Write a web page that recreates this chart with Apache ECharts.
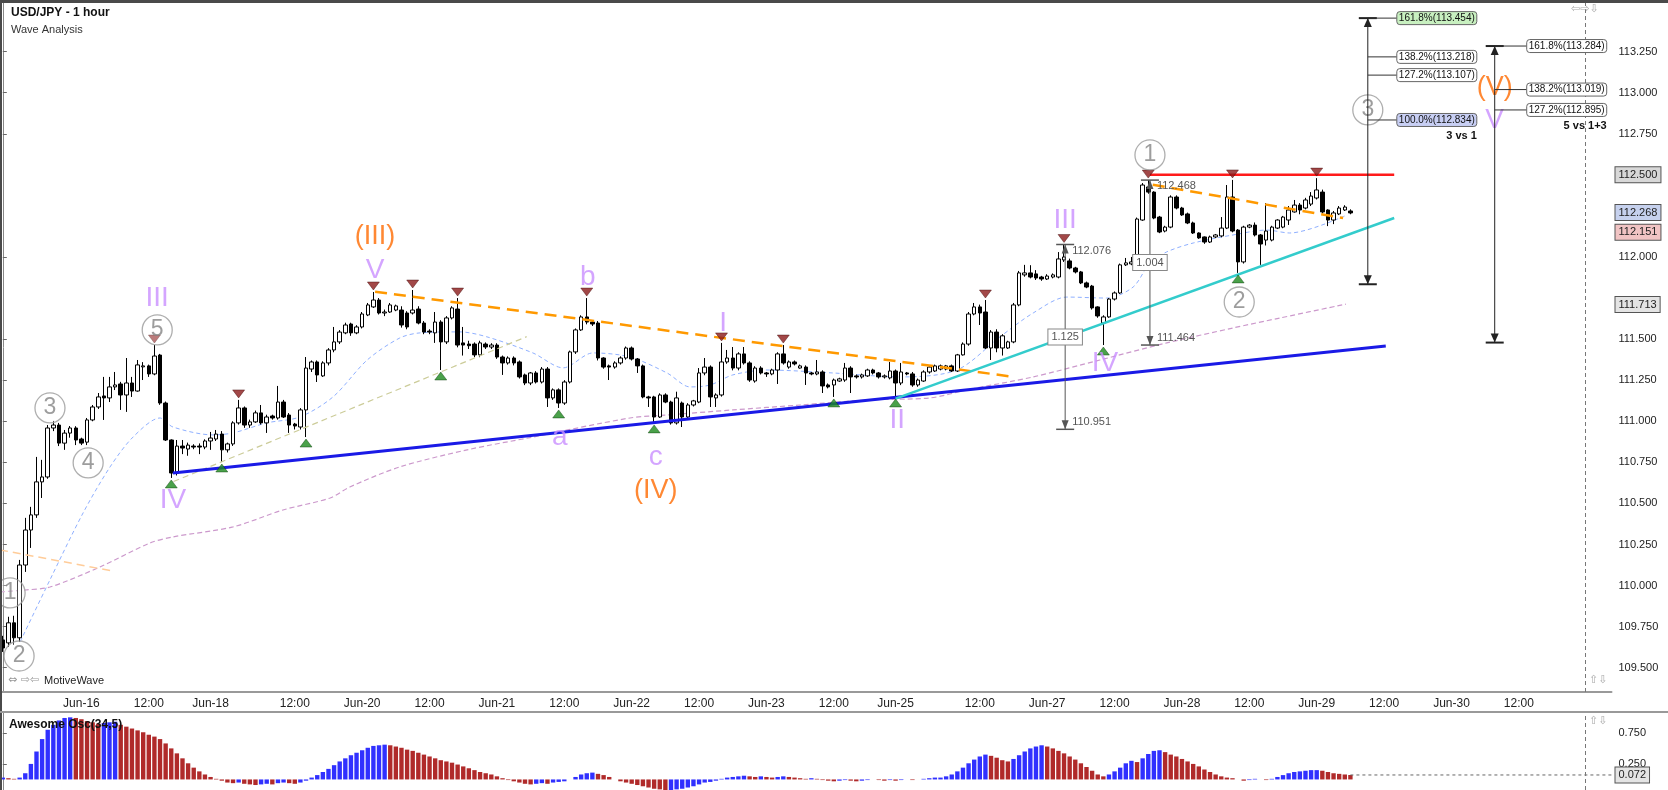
<!DOCTYPE html>
<html>
<head>
<meta charset="utf-8">
<title>USD/JPY - 1 hour</title>
<script src="https://cdn.jsdelivr.net/npm/echarts@6/dist/echarts.min.js"></script>
<style>
html, body { margin: 0; padding: 0; background: #fff; }
#chart { width: 1668px; height: 790px; }
</style>
</head>
<body>
<div id="chart"></div>
<script>
// hourly slots on the time axis (weekend hours are skipped, future slots stay empty)
const slotCount = 287;
const tickSlots = [14, 26, 37, 52, 64, 76, 88, 100, 112, 124, 136, 148, 159, 174, 186, 198, 210, 222, 234, 246, 258, 270];
const tickLabels = ['Jun-16', '12:00', 'Jun-18', '12:00', 'Jun-20', '12:00', 'Jun-21', '12:00', 'Jun-22', '12:00', 'Jun-23', '12:00',
    'Jun-25', '12:00', 'Jun-27', '12:00', 'Jun-28', '12:00', 'Jun-29', '12:00', 'Jun-30', '12:00'];

const priceTicks = [109.5, 109.75, 110, 110.25, 110.5, 110.75, 111, 111.25, 111.5, 112, 112.75, 113, 113.25];
const oscTicks = [0.25, 0.75];

// [open, close, low, high]
const candles = [
    [109.669, 109.620, 109.596, 109.694], [109.651, 109.773, 109.626, 109.810], [109.773, 109.682, 109.639, 109.816],
    [109.682, 110.125, 109.657, 110.156], [110.125, 110.338, 110.083, 110.412], [110.338, 110.430, 110.229, 110.479],
    [110.430, 110.631, 110.412, 110.783], [110.631, 110.661, 110.533, 110.765], [110.661, 110.959, 110.650, 110.977],
    [110.959, 110.977, 110.940, 111.002], [110.977, 110.867, 110.849, 110.990], [110.867, 110.928, 110.826, 110.947],
    [110.928, 110.959, 110.900, 110.971], [110.959, 110.886, 110.855, 110.970], [110.892, 110.867, 110.855, 110.900],
    [110.873, 111.008, 110.855, 111.020], [111.008, 111.087, 111.000, 111.099], [111.087, 111.148, 111.075, 111.172],
    [111.154, 111.142, 111.008, 111.270], [111.142, 111.209, 111.117, 111.270], [111.209, 111.221, 111.190, 111.300],
    [111.227, 111.160, 111.069, 111.240], [111.160, 111.233, 111.057, 111.385], [111.233, 111.184, 111.148, 111.270],
    [111.184, 111.343, 111.180, 111.373], [111.331, 111.337, 111.251, 111.360], [111.337, 111.288, 111.270, 111.345],
    [111.288, 111.397, 111.280, 111.464], [111.403, 111.111, 111.100, 111.410], [111.111, 110.886, 110.880, 111.120],
    [110.886, 110.685, 110.655, 110.890], [110.685, 110.849, 110.670, 110.886], [110.849, 110.837, 110.800, 110.886],
    [110.831, 110.855, 110.790, 110.870], [110.849, 110.843, 110.830, 110.860], [110.849, 110.843, 110.800, 110.865],
    [110.843, 110.880, 110.830, 110.890], [110.880, 110.898, 110.826, 110.935], [110.892, 110.922, 110.880, 110.947],
    [110.922, 110.826, 110.752, 110.940], [110.826, 110.862, 110.810, 110.870], [110.862, 110.990, 110.850, 111.000],
    [110.990, 111.081, 110.980, 111.130], [111.081, 110.977, 110.960, 111.090], [110.977, 110.996, 110.960, 111.010],
    [110.996, 111.051, 110.990, 111.065], [111.051, 110.990, 110.980, 111.099], [110.990, 111.026, 110.929, 111.040],
    [111.032, 111.020, 111.010, 111.040], [111.020, 111.117, 111.010, 111.215], [111.117, 111.026, 111.020, 111.130],
    [111.038, 110.977, 110.929, 111.050], [110.983, 110.971, 110.950, 110.990], [110.965, 111.069, 110.950, 111.080],
    [111.069, 111.324, 110.904, 111.391], [111.318, 111.361, 111.300, 111.370], [111.361, 111.282, 111.239, 111.370],
    [111.276, 111.355, 111.270, 111.365], [111.355, 111.434, 111.340, 111.445], [111.434, 111.483, 111.420, 111.574],
    [111.483, 111.543, 111.470, 111.555], [111.538, 111.586, 111.530, 111.600], [111.592, 111.538, 111.520, 111.600],
    [111.538, 111.574, 111.530, 111.585], [111.574, 111.653, 111.565, 111.665], [111.647, 111.708, 111.640, 111.720],
    [111.696, 111.738, 111.690, 111.787], [111.738, 111.659, 111.650, 111.750], [111.659, 111.665, 111.640, 111.680],
    [111.665, 111.708, 111.660, 111.720], [111.677, 111.702, 111.670, 111.710], [111.677, 111.586, 111.570, 111.700],
    [111.659, 111.574, 111.560, 111.670], [111.659, 111.677, 111.650, 111.799], [111.683, 111.598, 111.590, 111.700],
    [111.598, 111.543, 111.530, 111.610], [111.549, 111.543, 111.530, 111.560], [111.538, 111.604, 111.477, 111.665],
    [111.604, 111.483, 111.312, 111.615], [111.483, 111.629, 111.470, 111.640], [111.629, 111.690, 111.620, 111.700],
    [111.683, 111.464, 111.450, 111.750], [111.477, 111.464, 111.400, 111.574], [111.470, 111.460, 111.440, 111.490],
    [111.470, 111.404, 111.390, 111.480], [111.404, 111.477, 111.390, 111.490], [111.470, 111.452, 111.440, 111.480],
    [111.452, 111.464, 111.440, 111.475], [111.464, 111.391, 111.380, 111.475], [111.391, 111.355, 111.282, 111.400],
    [111.355, 111.385, 111.345, 111.395], [111.385, 111.355, 111.340, 111.395], [111.361, 111.270, 111.260, 111.370],
    [111.282, 111.233, 111.220, 111.290], [111.233, 111.294, 111.220, 111.300], [111.294, 111.239, 111.230, 111.305],
    [111.239, 111.318, 111.230, 111.330], [111.318, 111.142, 111.087, 111.330], [111.142, 111.191, 111.130, 111.200],
    [111.191, 111.111, 111.081, 111.200], [111.111, 111.239, 111.100, 111.250], [111.239, 111.422, 111.230, 111.430],
    [111.422, 111.556, 111.410, 111.565], [111.556, 111.635, 111.550, 111.645], [111.635, 111.604, 111.590, 111.750],
    [111.604, 111.592, 111.580, 111.610], [111.598, 111.385, 111.370, 111.610], [111.385, 111.330, 111.320, 111.390],
    [111.337, 111.330, 111.251, 111.345], [111.330, 111.355, 111.320, 111.365], [111.355, 111.385, 111.345, 111.395],
    [111.385, 111.446, 111.375, 111.455], [111.446, 111.379, 111.370, 111.455], [111.379, 111.337, 111.294, 111.385],
    [111.337, 111.148, 111.140, 111.345], [111.148, 111.142, 111.087, 111.155], [111.148, 111.026, 110.990, 111.155],
    [111.026, 111.160, 111.020, 111.170], [111.160, 111.117, 111.110, 111.170], [111.117, 110.990, 110.980, 111.125],
    [110.990, 111.142, 110.980, 111.180], [111.111, 111.026, 110.965, 111.120], [111.026, 111.099, 111.020, 111.110],
    [111.099, 111.124, 111.090, 111.130], [111.117, 111.294, 111.110, 111.324], [111.294, 111.330, 111.280, 111.385],
    [111.330, 111.148, 111.087, 111.340], [111.142, 111.160, 111.087, 111.170], [111.160, 111.361, 111.150, 111.477],
    [111.361, 111.385, 111.350, 111.434], [111.385, 111.324, 111.310, 111.452], [111.324, 111.410, 111.310, 111.420],
    [111.410, 111.355, 111.345, 111.452], [111.355, 111.251, 111.240, 111.365], [111.245, 111.324, 111.235, 111.335],
    [111.324, 111.294, 111.285, 111.335], [111.294, 111.288, 111.270, 111.300], [111.288, 111.312, 111.280, 111.320],
    [111.312, 111.410, 111.227, 111.420], [111.410, 111.355, 111.345, 111.464], [111.330, 111.361, 111.320, 111.370],
    [111.361, 111.349, 111.340, 111.370], [111.324, 111.337, 111.320, 111.345], [111.330, 111.294, 111.221, 111.340],
    [111.294, 111.288, 111.280, 111.300], [111.288, 111.300, 111.280, 111.373], [111.300, 111.215, 111.172, 111.310],
    [111.221, 111.209, 111.200, 111.230], [111.221, 111.251, 111.148, 111.260], [111.245, 111.258, 111.240, 111.265],
    [111.251, 111.324, 111.240, 111.355], [111.324, 111.270, 111.172, 111.335], [111.276, 111.270, 111.260, 111.285],
    [111.270, 111.282, 111.260, 111.290], [111.276, 111.312, 111.270, 111.320], [111.312, 111.294, 111.285, 111.320],
    [111.294, 111.270, 111.260, 111.300], [111.270, 111.276, 111.260, 111.285], [111.264, 111.306, 111.255, 111.361],
    [111.306, 111.233, 111.148, 111.315], [111.233, 111.300, 111.220, 111.355], [111.294, 111.288, 111.280, 111.300],
    [111.288, 111.221, 111.210, 111.300], [111.221, 111.251, 111.210, 111.260], [111.245, 111.300, 111.240, 111.310],
    [111.300, 111.330, 111.290, 111.340], [111.306, 111.337, 111.300, 111.345], [111.318, 111.337, 111.310, 111.345],
    [111.318, 111.337, 111.310, 111.343], [111.337, 111.306, 111.300, 111.345], [111.306, 111.404, 111.300, 111.410],
    [111.404, 111.470, 111.400, 111.480], [111.470, 111.653, 111.460, 111.665], [111.653, 111.696, 111.645, 111.720],
    [111.696, 111.659, 111.586, 111.710], [111.665, 111.446, 111.440, 111.738], [111.446, 111.543, 111.373, 111.555],
    [111.543, 111.446, 111.420, 111.560], [111.446, 111.520, 111.400, 111.530], [111.446, 111.483, 111.440, 111.490],
    [111.483, 111.708, 111.475, 111.720], [111.708, 111.903, 111.700, 111.915], [111.891, 111.903, 111.880, 111.952],
    [111.903, 111.878, 111.870, 111.950], [111.897, 111.872, 111.860, 111.920], [111.878, 111.866, 111.855, 111.885],
    [111.866, 111.884, 111.860, 111.895], [111.878, 111.891, 111.870, 111.900], [111.878, 111.988, 111.870, 112.030],
    [111.982, 112.000, 111.970, 112.076], [111.976, 111.933, 111.925, 111.990], [111.933, 111.909, 111.900, 111.940],
    [111.909, 111.842, 111.835, 111.915], [111.842, 111.817, 111.810, 111.850], [111.823, 111.690, 111.680, 111.830],
    [111.696, 111.641, 111.630, 111.700], [111.598, 111.635, 111.464, 111.645], [111.635, 111.744, 111.630, 111.750],
    [111.744, 111.781, 111.735, 111.790], [111.781, 111.952, 111.775, 111.960], [111.952, 111.964, 111.945, 111.994],
    [111.958, 111.970, 111.950, 112.000], [111.982, 112.231, 111.975, 112.240], [112.225, 112.438, 112.220, 112.450],
    [112.426, 112.395, 112.385, 112.468], [112.395, 112.237, 112.230, 112.400], [112.243, 112.152, 112.145, 112.250],
    [112.158, 112.182, 112.150, 112.190], [112.182, 112.365, 112.175, 112.375], [112.365, 112.298, 112.290, 112.375],
    [112.298, 112.256, 112.250, 112.305], [112.262, 112.207, 112.200, 112.270], [112.207, 112.146, 112.140, 112.215],
    [112.146, 112.116, 112.110, 112.150], [112.122, 112.091, 112.080, 112.125], [112.091, 112.122, 112.085, 112.130],
    [112.122, 112.134, 112.115, 112.140], [112.128, 112.176, 112.120, 112.243], [112.176, 112.365, 112.170, 112.438],
    [112.365, 112.158, 112.150, 112.469], [112.164, 111.970, 111.903, 112.170], [111.970, 112.182, 111.960, 112.190],
    [112.182, 112.194, 112.175, 112.200], [112.194, 112.134, 112.125, 112.210], [112.134, 112.079, 111.952, 112.140],
    [112.103, 112.158, 112.070, 112.328], [112.103, 112.182, 112.095, 112.190], [112.176, 112.225, 112.170, 112.230],
    [112.182, 112.243, 112.175, 112.250], [112.225, 112.286, 112.195, 112.310], [112.274, 112.316, 112.270, 112.347],
    [112.316, 112.286, 112.260, 112.328], [112.298, 112.347, 112.290, 112.360], [112.322, 112.371, 112.310, 112.395],
    [112.359, 112.408, 112.350, 112.480], [112.395, 112.274, 112.265, 112.410], [112.286, 112.225, 112.188, 112.290],
    [112.225, 112.268, 112.200, 112.280], [112.262, 112.298, 112.255, 112.310], [112.286, 112.304, 112.280, 112.315],
    [112.280, 112.268, 112.260, 112.290]
];

// Awesome Oscillator (34,5) histogram, one value per candle
const aoValues = [
    0.03, 0.02, 0.01, 0.03, 0.10, 0.25, 0.45, 0.65, 0.80, 0.88, 0.95, 0.99, 1.00, 0.99, 0.97, 0.94, 0.92, 0.90, 0.91, 0.92,
    0.93, 0.88, 0.85, 0.82, 0.79, 0.76, 0.72, 0.69, 0.65, 0.58, 0.50, 0.42, 0.34, 0.26, 0.19, 0.13, 0.08, 0.04, 0.01, -0.02,
    -0.05, -0.06, -0.05, -0.07, -0.08, -0.09, -0.08, -0.07, -0.08, -0.06, -0.05, -0.06, -0.07, -0.05, -0.02, 0.03, 0.07, 0.12, 0.17, 0.23,
    0.29, 0.34, 0.39, 0.43, 0.47, 0.51, 0.54, 0.55, 0.56, 0.55, 0.53, 0.51, 0.48, 0.46, 0.43, 0.40, 0.37, 0.34, 0.31, 0.29,
    0.27, 0.24, 0.21, 0.18, 0.15, 0.12, 0.10, 0.08, 0.05, 0.02, -0.01, -0.03, -0.05, -0.07, -0.08, -0.07, -0.06, -0.07, -0.05, -0.04,
    -0.03, 0.00, 0.04, 0.08, 0.10, 0.11, 0.09, 0.07, 0.04, 0.00, -0.03, -0.05, -0.07, -0.09, -0.11, -0.13, -0.15, -0.16, -0.17, -0.17,
    -0.16, -0.15, -0.13, -0.11, -0.08, -0.05, -0.04, -0.02, 0.01, 0.03, 0.04, 0.05, 0.06, 0.05, 0.04, 0.05, 0.04, 0.03, 0.04, 0.05,
    0.04, 0.03, 0.02, 0.01, 0.02, 0.01, -0.01, -0.02, -0.03, -0.02, -0.01, -0.02, -0.03, -0.02, -0.01, 0.00, -0.01, -0.02, -0.01, -0.02,
    -0.01, 0.00, -0.01, 0.00, 0.01, 0.02, 0.03, 0.03, 0.05, 0.08, 0.13, 0.19, 0.26, 0.32, 0.37, 0.40, 0.38, 0.35, 0.31, 0.29,
    0.33, 0.39, 0.45, 0.50, 0.53, 0.55, 0.53, 0.50, 0.46, 0.42, 0.37, 0.32, 0.26, 0.20, 0.14, 0.08, 0.05, 0.08, 0.13, 0.19,
    0.26, 0.30, 0.28, 0.34, 0.41, 0.46, 0.47, 0.44, 0.40, 0.37, 0.33, 0.29, 0.25, 0.21, 0.16, 0.12, 0.08, 0.05, 0.03, 0.02,
    0.00, -0.02, -0.01, 0.01, 0.00, -0.01, 0.01, 0.04, 0.07, 0.10, 0.12, 0.13, 0.14, 0.15, 0.15, 0.14, 0.12, 0.10, 0.09, 0.08,
    0.072
];

// moving averages, read as [slot, price] points
const fastMa = [[3.1, 109.658], [8.4, 110.035], [14.3, 110.442], [19.1, 110.722], [23.2, 110.904], [28.0, 111.020],
    [30.3, 110.965], [37.4, 110.917], [41.0, 110.929], [47.0, 110.990], [52.9, 111.026], [58.8, 111.148], [64.9, 111.373],
    [70.7, 111.507], [74.3, 111.538], [81.4, 111.544], [86.2, 111.514], [94.4, 111.416], [99.8, 111.325], [105.1, 111.416],
    [111.7, 111.391], [118.3, 111.294], [122.4, 111.209], [126.0, 111.221], [130.0, 111.282], [136.1, 111.312],
    [147.8, 111.294], [159.8, 111.270], [169.9, 111.312], [177.6, 111.514], [183.5, 111.659], [189.5, 111.756],
    [196.6, 111.750], [201.3, 111.817], [204.3, 111.964], [207.3, 112.031], [212.0, 112.085], [219.1, 112.134],
    [225.1, 112.164], [229.2, 112.146], [239.0, 112.250]];
const slowMa = [[-0.5, 109.961], [4.0, 109.973], [8.4, 109.991], [17.3, 110.113], [26.2, 110.259], [30.3, 110.296],
    [41.0, 110.357], [49.9, 110.460], [58.3, 110.533], [61.8, 110.600], [70.7, 110.722], [82.7, 110.826], [94.4, 110.904],
    [111.7, 111.020], [118.3, 111.038], [130.0, 111.069], [142.0, 111.099], [153.9, 111.130], [165.1, 111.142],
    [171.7, 111.191], [183.5, 111.270], [195.4, 111.373], [207.3, 111.477], [219.1, 111.568], [227.5, 111.629],
    [239.2, 111.713]];

// trend lines [slot, price]
const baseTrend = [[30.3, 110.685], [246.3, 111.458]];
const cyanTrend = [[159.0, 111.138], [247.8, 112.237]];
const topLine = [[204.3, 112.500], [247.8, 112.500]];
const upperChannel = [[66.3, 111.789], [179.9, 111.271]];
const wedgeTop = [[204.8, 112.440], [238.7, 112.237]];
const earlyLine = [[-0.5, 110.217], [19.5, 110.089]];
const supportGuide = [[30.4, 110.633], [93.3, 111.515]];

const swingHighs = [27, 42, 66, 73, 81, 104, 128, 139, 175, 189, 204, 219, 234];
const swingLows = [30, 39, 54, 78, 99, 116, 148, 159, 196, 220];

// wave labels [text, slot, price]
const minorWaves = [['III', 27.5, 111.750], ['IV', 30.3, 110.522], ['V', 66.3, 111.921], ['b', 104.2, 111.879],
    ['a', 99.2, 110.905], ['c', 116.3, 110.783], ['I', 128.3, 111.598], ['II', 159.3, 111.008], ['III', 189.2, 112.226],
    ['IV', 196.3, 111.355], ['V', 265.7, 112.834]];
const intermediateWaves = [['(III)', 66.3, 112.122], ['(IV)', 116.3, 110.576], ['(V)', 265.7, 113.029]];
const minuteWaves = [['1', 1.3, 109.955], ['2', 2.9, 109.571], ['3', 8.4, 111.081], ['4', 15.2, 110.747],
    ['5', 27.5, 111.556], ['1', 204.3, 112.621], ['2', 220.2, 111.726], ['3', 243.1, 112.895]];

// price range measures [slot, top, bottom]
const measures = [[189.2, 112.076, 110.951], [204.3, 112.468, 111.464]];

// fibonacci projections
const projections = [
    { slot: 243.1, top: 113.454, bottom: 111.834, title: '3 vs 1', gap: 29,
        levels: [['161.8%', 113.454, '#c8f0c0'], ['138.2%', 113.218, '#ffffff'], ['127.2%', 113.107, '#ffffff'], ['100.0%', 112.834, '#c8cff4']] },
    { slot: 265.7, top: 113.284, bottom: 111.479, title: '5 vs 1+3', gap: 32,
        levels: [['161.8%', 113.284, '#ffffff'], ['138.2%', 113.019, '#ffffff'], ['127.2%', 112.895, '#ffffff']] }
];

const axisMarks = [[112.500, '#d8d8d8'], [112.268, '#c6d1ee'], [112.151, '#f1c4c4'], [111.713, '#e4e4e4']];
const lastOsc = 0.072;
const nowSlot = 281.8;

const FONT = '"Liberation Sans", Arial, sans-serif';
const categories = [];
for (let i = 0; i < slotCount; i++) categories.push('');
tickSlots.forEach((s, k) => { categories[s] = tickLabels[k]; });

function lineSeries(data, color, width, type, z) {
    return {
        type: 'line', xAxisIndex: 1, yAxisIndex: 0, data: data, showSymbol: false, silent: true,
        lineStyle: { color: color, width: width, type: type }, z: z || 4, animation: false
    };
}

function textSeries(items, style, z) {
    return {
        type: 'scatter', xAxisIndex: 1, yAxisIndex: 0, symbolSize: 1, silent: true, z: z || 6,
        itemStyle: { color: 'rgba(0,0,0,0)' },
        data: items.map(w => ({ name: w[0], value: [w[1], w[2]] })),
        label: Object.assign({ show: true, position: 'inside', formatter: '{b}', fontFamily: FONT }, style)
    };
}

// value box drawn just right of the axis line
function boxLabel(text, bg) {
    return { show: true, position: 'end', formatter: text, backgroundColor: bg, borderColor: '#555', borderWidth: 1,
        padding: [2, 3], color: '#222', fontSize: 11, fontFamily: FONT, distance: 4 };
}

function renderMeasure(params, api) {
    const top = api.coord([api.value(0), api.value(1)]);
    const bot = api.coord([api.value(0), api.value(2)]);
    const x = top[0];
    const ink = '#555';
    const size = (api.value(1) - api.value(2)).toFixed(3);
    return {
        type: 'group',
        children: [
            { type: 'line', shape: { x1: x, y1: top[1], x2: x, y2: bot[1] }, style: { stroke: ink, lineWidth: 1 } },
            { type: 'line', shape: { x1: x - 9, y1: top[1], x2: x + 9, y2: top[1] }, style: { stroke: ink, lineWidth: 1.5 } },
            { type: 'line', shape: { x1: x - 9, y1: bot[1], x2: x + 9, y2: bot[1] }, style: { stroke: ink, lineWidth: 1.5 } },
            { type: 'polygon', shape: { points: [[x, top[1]], [x - 3.5, top[1] + 9], [x + 3.5, top[1] + 9]] }, style: { fill: ink } },
            { type: 'polygon', shape: { points: [[x, bot[1]], [x - 3.5, bot[1] - 9], [x + 3.5, bot[1] - 9]] }, style: { fill: ink } },
            { type: 'text', x: x + 7, y: top[1] + 6, style: { text: api.value(1).toFixed(3), fill: '#555', font: '11px ' + FONT, verticalAlign: 'middle' } },
            { type: 'text', x: x + 7, y: bot[1] - 7, style: { text: api.value(2).toFixed(3), fill: '#555', font: '11px ' + FONT, verticalAlign: 'middle' } },
            { type: 'text', x: x, y: (top[1] + bot[1]) / 2, style: { text: size, fill: '#555', font: '11px ' + FONT, align: 'center',
                verticalAlign: 'middle', backgroundColor: '#fff', borderColor: '#888', borderWidth: 1, padding: [2, 3] } }
        ]
    };
}

function renderProjection(params, api) {
    const fib = projections[params.dataIndex];
    const top = api.coord([fib.slot, fib.top]);
    const bot = api.coord([fib.slot, fib.bottom]);
    const x = top[0];
    const ink = '#222';
    const children = [
        { type: 'line', shape: { x1: x, y1: top[1], x2: x, y2: bot[1] }, style: { stroke: ink, lineWidth: 1 } },
        { type: 'line', shape: { x1: x - 9, y1: top[1], x2: x + 9, y2: top[1] }, style: { stroke: ink, lineWidth: 2 } },
        { type: 'line', shape: { x1: x - 9, y1: bot[1], x2: x + 9, y2: bot[1] }, style: { stroke: ink, lineWidth: 2 } },
        { type: 'polygon', shape: { points: [[x, top[1]], [x - 4, top[1] + 9], [x + 4, top[1] + 9]] }, style: { fill: ink } },
        { type: 'polygon', shape: { points: [[x, bot[1]], [x - 4, bot[1] - 9], [x + 4, bot[1] - 9]] }, style: { fill: ink } }
    ];
    let lastY = 0;
    const boxW = 80;
    fib.levels.forEach(lv => {
        const y = api.coord([fib.slot, lv[1]])[1];
        lastY = y;
        children.push({ type: 'line', shape: { x1: x, y1: y, x2: x + fib.gap, y2: y }, style: { stroke: '#333', lineWidth: 1 } });
        children.push({ type: 'rect', shape: { x: x + fib.gap, y: y - 6.5, width: boxW, height: 13, r: 3 },
            style: { fill: lv[2], stroke: '#666', lineWidth: 1 } });
        children.push({ type: 'text', x: x + fib.gap + boxW / 2, y: y, style: { text: lv[0] + '(' + lv[1].toFixed(3) + ')',
            fill: '#111', font: '10px ' + FONT, align: 'center', verticalAlign: 'middle' } });
    });
    children.push({ type: 'text', x: x + fib.gap + boxW, y: lastY + 16, style: { text: fib.title, fill: '#111',
        font: 'bold 11px ' + FONT, align: 'right', verticalAlign: 'middle' } });
    return { type: 'group', children: children };
}

const chart = echarts.init(document.getElementById('chart'), null, { renderer: 'canvas' });

const tickShown = (index, value) => value !== '';
const hiddenLine = { color: 'rgba(0,0,0,0)', width: 1, type: 'solid' };
const nowLine = { color: '#777', type: [4, 3], width: 1 };

chart.setOption({
    animation: false,
    backgroundColor: '#ffffff',
    grid: [
        { left: 0, right: 56.5, top: 3, height: 689 },
        { left: 0, right: 56.5, top: 713, height: 77 }
    ],
    xAxis: [
        { type: 'category', gridIndex: 0, data: categories, boundaryGap: true,
            axisLine: { lineStyle: { color: '#999', width: 2 } },
            axisTick: { inside: true, length: 4, interval: tickShown, alignWithLabel: true, lineStyle: { color: '#444' } },
            axisLabel: { interval: tickShown, fontSize: 12, color: '#222', margin: 6, fontFamily: '"Liberation Sans Narrow", ' + FONT },
            splitLine: { show: false } },
        { type: 'value', gridIndex: 0, min: -0.5, max: slotCount - 0.5, show: false },
        { type: 'category', gridIndex: 1, data: categories, boundaryGap: true,
            axisLine: { show: false }, axisTick: { show: false }, axisLabel: { show: false } },
        { type: 'value', gridIndex: 1, min: -0.5, max: slotCount - 0.5, show: false }
    ],
    yAxis: [
        { type: 'value', gridIndex: 0, position: 'right', min: 109.352, max: 113.546,
            axisLine: { show: true, lineStyle: { color: '#888' } },
            axisTick: { show: true, length: 4, customValues: priceTicks, lineStyle: { color: '#666' } },
            axisLabel: { customValues: priceTicks, formatter: v => v.toFixed(3), fontSize: 11, color: '#222', margin: 7, fontFamily: FONT },
            splitLine: { show: false } },
        { type: 'value', gridIndex: 1, position: 'right', min: -0.17, max: 1.07,
            axisLine: { show: true, lineStyle: { color: '#888' } },
            axisTick: { show: true, length: 4, customValues: oscTicks, lineStyle: { color: '#666' } },
            axisLabel: { customValues: oscTicks, formatter: v => v.toFixed(3), fontSize: 11, color: '#222', margin: 7, fontFamily: FONT },
            splitLine: { show: false } }
    ],
    series: [
        Object.assign(lineSeries(slowMa, '#cc99cc', 1.2, [5, 3], 2), {
            smooth: 0.3,
            markLine: {
                silent: true, symbol: 'none', animation: false,
                data: axisMarks.map(m => ({ yAxis: m[0], lineStyle: hiddenLine, label: boxLabel(m[0].toFixed(3), m[1]) }))
                    .concat([{ xAxis: nowSlot, label: { show: false }, lineStyle: nowLine }])
            }
        }),
        Object.assign(lineSeries(fastMa, '#8fb0ff', 1, [4, 3], 2), { smooth: 0.3 }),
        {
            type: 'candlestick', xAxisIndex: 0, yAxisIndex: 0, data: candles, barWidth: 4, z: 3, silent: true,
            itemStyle: { color: '#ffffff', color0: '#000000', borderColor: '#000000', borderColor0: '#000000', borderWidth: 1 }
        },
        lineSeries(supportGuide, '#cccc99', 1.2, [6, 4]),
        lineSeries(earlyLine, '#ffcc99', 1.5, [8, 5]),
        lineSeries(upperChannel, '#ff9900', 2.5, [12, 7]),
        lineSeries(wedgeTop, '#ff9900', 2.5, [12, 7]),
        lineSeries(baseTrend, '#1a1ae6', 3, 'solid'),
        lineSeries(cyanTrend, '#33cccc', 2.5, 'solid'),
        lineSeries(topLine, '#ff1a1a', 2.5, 'solid'),
        {
            type: 'scatter', xAxisIndex: 0, yAxisIndex: 0, silent: true, z: 6,
            symbol: 'path://M0,0 L12,0 L6,8 Z', symbolSize: [12, 8], symbolOffset: [0, -6],
            itemStyle: { color: '#8b1a1a', borderColor: '#3a0000', borderWidth: 0.5 },
            data: swingHighs.map(i => [i, candles[i][3]])
        },
        {
            type: 'scatter', xAxisIndex: 0, yAxisIndex: 0, silent: true, z: 6,
            symbol: 'triangle', symbolSize: [12, 8], symbolOffset: [0, 6],
            itemStyle: { color: '#1d8a1d', borderColor: '#003300', borderWidth: 0.5 },
            data: swingLows.map(i => [i, candles[i][2]])
        },
        textSeries(minorWaves, { fontSize: 28, color: '#c98eff' }),
        textSeries(intermediateWaves, { fontSize: 27, color: '#ff6a00' }),
        {
            type: 'scatter', xAxisIndex: 1, yAxisIndex: 0, silent: true, z: 6,
            symbol: 'circle', symbolSize: 30,
            itemStyle: { color: 'rgba(255,255,255,0.35)', borderColor: '#9a9a9a', borderWidth: 1.3 },
            data: minuteWaves.map(w => ({ name: w[0], value: [w[1], w[2]] })),
            label: { show: true, position: 'inside', formatter: '{b}', fontSize: 23, color: '#858585', fontFamily: FONT }
        },
        {
            type: 'custom', xAxisIndex: 1, yAxisIndex: 0, silent: true, z: 7,
            renderItem: renderMeasure, data: measures
        },
        {
            type: 'custom', xAxisIndex: 1, yAxisIndex: 0, silent: true, z: 7,
            renderItem: renderProjection, data: projections.map(p => [p.slot, p.top, p.bottom])
        },
        {
            type: 'bar', xAxisIndex: 2, yAxisIndex: 1, barWidth: '78%', silent: true,
            data: aoValues.map((v, i) => ({
                value: v,
                itemStyle: { color: (i > 0 && v < aoValues[i - 1]) ? '#b02a2a' : '#3030ff' }
            }))
        },
        {
            type: 'line', xAxisIndex: 3, yAxisIndex: 1, showSymbol: false, silent: true,
            data: [[aoValues.length - 1, lastOsc], [slotCount - 0.5, lastOsc]],
            lineStyle: { color: '#666', width: 1, type: [3, 3] },
            markLine: {
                silent: true, symbol: 'none', animation: false,
                data: [
                    { yAxis: lastOsc, lineStyle: hiddenLine, label: boxLabel(lastOsc.toFixed(3), '#e4e4e4') },
                    { xAxis: nowSlot, label: { show: false }, lineStyle: nowLine }
                ]
            }
        }
    ],
    graphic: [
        { type: 'rect', left: 0, top: 0, shape: { width: 1668, height: 3 }, style: { fill: '#4a4a4a' }, z: 100 },
        { type: 'rect', left: 0, top: 0, shape: { width: 2, height: 790 }, style: { fill: '#4a4a4a' }, z: 100 },
        { type: 'line', shape: { x1: 0, y1: 712, x2: 1668, y2: 712 }, style: { stroke: '#999', lineWidth: 2 }, z: 100 },
        { type: 'text', left: 11, top: 7, style: { text: 'USD/JPY - 1 hour', font: 'bold 12px ' + FONT, fill: '#111' }, z: 100 },
        { type: 'text', left: 11, top: 24, style: { text: 'Wave Analysis', font: '11px ' + FONT, fill: '#333' }, z: 100 },
        { type: 'text', left: 8, top: 675, style: { text: '⇔ ⇨⇦', font: '11px "DejaVu Sans", sans-serif', fill: '#999' }, z: 100 },
        { type: 'text', left: 44, top: 675, style: { text: 'MotiveWave', font: '11px ' + FONT, fill: '#222' }, z: 100 },
        { type: 'text', left: 9, top: 719, style: { text: 'Awesome Osc(34,5)', font: 'bold 12px ' + FONT, fill: '#111' }, z: 100 },
        { type: 'text', left: 1571, top: 4, style: { text: '⇦⇨⇩', font: '11px "DejaVu Sans", sans-serif', fill: '#aaa' }, z: 100 },
        { type: 'text', left: 1589, top: 675, style: { text: '⇧⇩', font: '11px "DejaVu Sans", sans-serif', fill: '#aaa' }, z: 100 },
        { type: 'text', left: 1589, top: 716, style: { text: '⇧⇩', font: '11px "DejaVu Sans", sans-serif', fill: '#aaa' }, z: 100 }
    ]
});
</script>
</body>
</html>
